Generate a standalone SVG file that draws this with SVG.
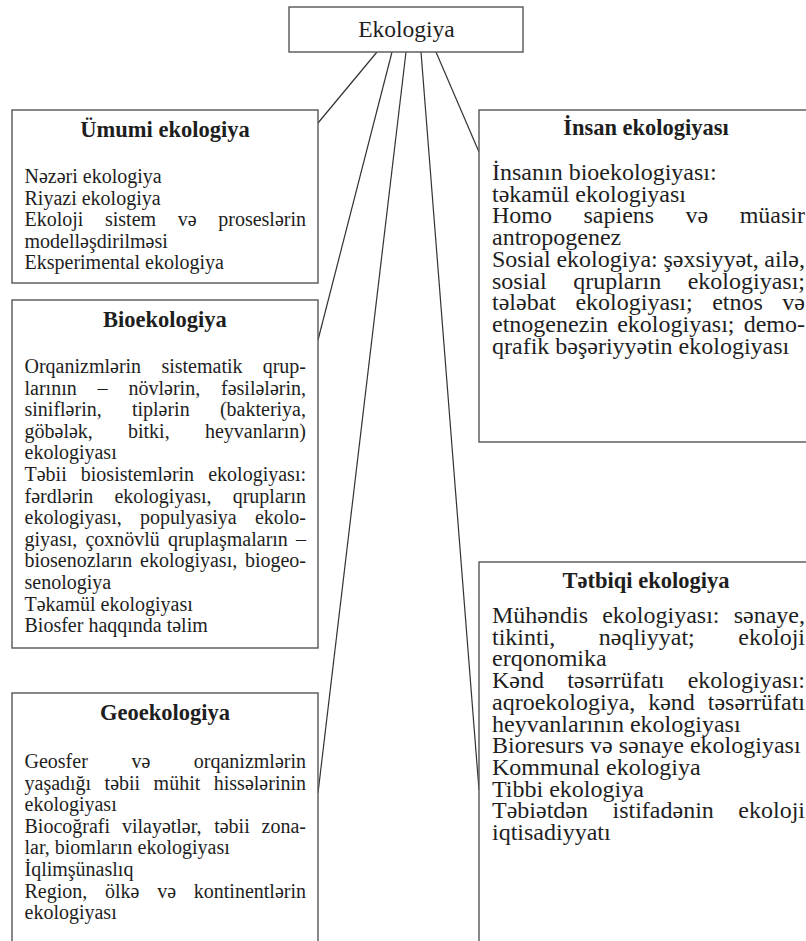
<svg xmlns="http://www.w3.org/2000/svg" width="806" height="941" viewBox="0 0 806 941">
  <style>
    .box { fill: #ffffff; stroke: #555555; stroke-width: 1.4; }
    .link { stroke: #333333; stroke-width: 1.2; fill: none; }
    .t { font-family: "Liberation Serif", "Times New Roman", serif; fill: #1e1e1e; }
    .l { font-size: 20px; }
    .r { font-size: 24px; }
    .h { font-size: 22.5px; font-weight: bold; text-anchor: middle; }
    .top { font-size: 23.5px; text-anchor: middle; }
    .e { text-anchor: end; }
  </style>
  <rect x="0" y="0" width="806" height="941" fill="#ffffff"/>

  <!-- connectors from the root box -->
  <g id="connectors">
    <line class="link" x1="377" y1="52" x2="318" y2="123"/>
    <line class="link" x1="392" y1="52" x2="318" y2="340"/>
    <line class="link" x1="406" y1="52" x2="318" y2="793"/>
    <line class="link" x1="421" y1="52" x2="479" y2="790"/>
    <line class="link" x1="436" y1="52" x2="479" y2="152"/>
  </g>

  <g id="ekologiya">
    <rect class="box" x="289" y="7" width="234" height="45"/>
    <text class="t top" x="406.5" y="37">Ekologiya</text>
  </g>

  <g id="umumi-ekologiya">
    <rect class="box" x="12" y="110" width="306" height="173"/>
    <text class="t h" x="165" y="137">Ümumi ekologiya</text>
    <text class="t l" x="24.5" y="183">Nəzəri ekologiya</text>
    <text class="t l" x="24.5" y="204.6">Riyazi ekologiya</text>
    <text class="t l" y="226.2"><tspan x="24.5">Ekoloji</tspan><tspan x="105">sistem</tspan><tspan x="177.7">və</tspan><tspan class="e" x="306">proseslərin</tspan></text>
    <text class="t l" x="24.5" y="247.8">modelləşdirilməsi</text>
    <text class="t l" x="24.5" y="269.4">Eksperimental ekologiya</text>
  </g>

  <g id="bioekologiya">
    <rect class="box" x="12" y="300" width="306" height="348"/>
    <text class="t h" x="165" y="327">Bioekologiya</text>
    <text class="t l" y="373"><tspan x="24.5">Orqanizmlərin</tspan><tspan x="161.4">sistematik</tspan><tspan class="e" x="306">qrup-</tspan></text>
    <text class="t l" y="394.6"><tspan x="24.5">larının</tspan><tspan x="97.6">–</tspan><tspan x="128.5">növlərin,</tspan><tspan class="e" x="306">fəsilələrin,</tspan></text>
    <text class="t l" y="416.2"><tspan x="24.5">siniflərin,</tspan><tspan x="131.9">tiplərin</tspan><tspan class="e" x="306">(bakteriya,</tspan></text>
    <text class="t l" y="437.8"><tspan x="24.5">göbələk,</tspan><tspan x="128">bitki,</tspan><tspan class="e" x="306">heyvanların)</tspan></text>
    <text class="t l" x="24.5" y="459.4">ekologiyası</text>
    <text class="t l" y="481"><tspan x="24.5">Təbii</tspan><tspan x="80.8">biosistemlərin</tspan><tspan class="e" x="306">ekologiyası:</tspan></text>
    <text class="t l" y="502.6"><tspan x="24.5">fərdlərin</tspan><tspan x="114.4">ekologiyası,</tspan><tspan class="e" x="306">qrupların</tspan></text>
    <text class="t l" y="524.2"><tspan x="24.5">ekologiyası,</tspan><tspan x="140">populyasiya</tspan><tspan class="e" x="306">ekolo-</tspan></text>
    <text class="t l" y="545.8"><tspan x="24.5">giyası,</tspan><tspan x="85.4">çoxnövlü</tspan><tspan x="167.9">qruplaşmaların</tspan><tspan class="e" x="306">–</tspan></text>
    <text class="t l" y="567.4"><tspan x="24.5">biosenozların</tspan><tspan x="140">ekologiyası,</tspan><tspan class="e" x="306">biogeo-</tspan></text>
    <text class="t l" x="24.5" y="589">senologiya</text>
    <text class="t l" x="24.5" y="610.6">Təkamül ekologiyası</text>
    <text class="t l" x="24.5" y="632.2">Biosfer haqqında təlim</text>
  </g>

  <g id="geoekologiya">
    <rect class="box" x="12" y="693" width="306" height="260"/>
    <text class="t h" x="165" y="720">Geoekologiya</text>
    <text class="t l" y="768"><tspan x="24.5">Geosfer</tspan><tspan x="131.4">və</tspan><tspan class="e" x="306">orqanizmlərin</tspan></text>
    <text class="t l" y="789.6"><tspan x="24.5">yaşadığı</tspan><tspan x="104.6">təbii</tspan><tspan x="153.6">mühit</tspan><tspan class="e" x="306">hissələrinin</tspan></text>
    <text class="t l" x="24.5" y="811.2">ekologiyası</text>
    <text class="t l" y="832.8"><tspan x="24.5">Biocoğrafi</tspan><tspan x="121.9">vilayətlər,</tspan><tspan x="214.2">təbii</tspan><tspan class="e" x="306">zona-</tspan></text>
    <text class="t l" x="24.5" y="854.4">lar, biomların ekologiyası</text>
    <text class="t l" x="24.5" y="876">İqlimşünaslıq</text>
    <text class="t l" y="897.6"><tspan x="24.5">Region,</tspan><tspan x="105">ölkə</tspan><tspan x="157.2">və</tspan><tspan class="e" x="306">kontinentlərin</tspan></text>
    <text class="t l" x="24.5" y="919.2">ekologiyası</text>
  </g>

  <g id="insan-ekologiyasi">
    <rect class="box" x="479" y="110" width="339" height="332"/>
    <text class="t h" x="646" y="135">İnsan ekologiyası</text>
    <text class="t r" x="492" y="180">İnsanın bioekologiyası:</text>
    <text class="t r" x="492" y="201.7">təkamül ekologiyası</text>
    <text class="t r" y="223.4"><tspan x="492">Homo</tspan><tspan x="583.5">sapiens</tspan><tspan x="685.6">və</tspan><tspan class="e" x="805">müasir</tspan></text>
    <text class="t r" x="492" y="245.1">antropogenez</text>
    <text class="t r" y="266.8"><tspan x="492">Sosial</tspan><tspan x="556.4">ekologiya:</tspan><tspan x="663.4">şəxsiyyət,</tspan><tspan class="e" x="805">ailə,</tspan></text>
    <text class="t r" y="288.5"><tspan x="492">sosial</tspan><tspan x="573.2">qrupların</tspan><tspan class="e" x="805">ekologiyası;</tspan></text>
    <text class="t r" y="310.2"><tspan x="492">tələbat</tspan><tspan x="575.4">ekologiyası;</tspan><tspan x="712.2">etnos</tspan><tspan class="e" x="805">və</tspan></text>
    <text class="t r" y="331.9"><tspan x="492">etnogenezin</tspan><tspan x="617.2">ekologiyası;</tspan><tspan class="e" x="805">demo-</tspan></text>
    <text class="t r" x="492" y="353.6">qrafik bəşəriyyətin ekologiyası</text>
  </g>

  <g id="tetbiqi-ekologiya">
    <rect class="box" x="479" y="562" width="339" height="391"/>
    <text class="t h" x="646" y="588">Tətbiqi ekologiya</text>
    <text class="t r" y="623"><tspan x="492">Mühəndis</tspan><tspan x="602.2">ekologiyası:</tspan><tspan class="e" x="805">sənaye,</tspan></text>
    <text class="t r" y="644.7"><tspan x="492">tikinti,</tspan><tspan x="598.8">nəqliyyat;</tspan><tspan class="e" x="805">ekoloji</tspan></text>
    <text class="t r" x="492" y="666.4">erqonomika</text>
    <text class="t r" y="688.1"><tspan x="492">Kənd</tspan><tspan x="567.2">təsərrüfatı</tspan><tspan class="e" x="805">ekologiyası:</tspan></text>
    <text class="t r" y="709.8"><tspan x="492">aqroekologiya,</tspan><tspan x="648.2">kənd</tspan><tspan class="e" x="805">təsərrüfatı</tspan></text>
    <text class="t r" x="492" y="731.5">heyvanlarının ekologiyası</text>
    <text class="t r" x="492" y="753.2">Bioresurs və sənaye ekologiyası</text>
    <text class="t r" x="492" y="774.9">Kommunal ekologiya</text>
    <text class="t r" x="492" y="796.6">Tibbi ekologiya</text>
    <text class="t r" y="818.3"><tspan x="492">Təbiətdən</tspan><tspan x="612.5">istifadənin</tspan><tspan class="e" x="805">ekoloji</tspan></text>
    <text class="t r" x="492" y="840">iqtisadiyyatı</text>
  </g>
</svg>
